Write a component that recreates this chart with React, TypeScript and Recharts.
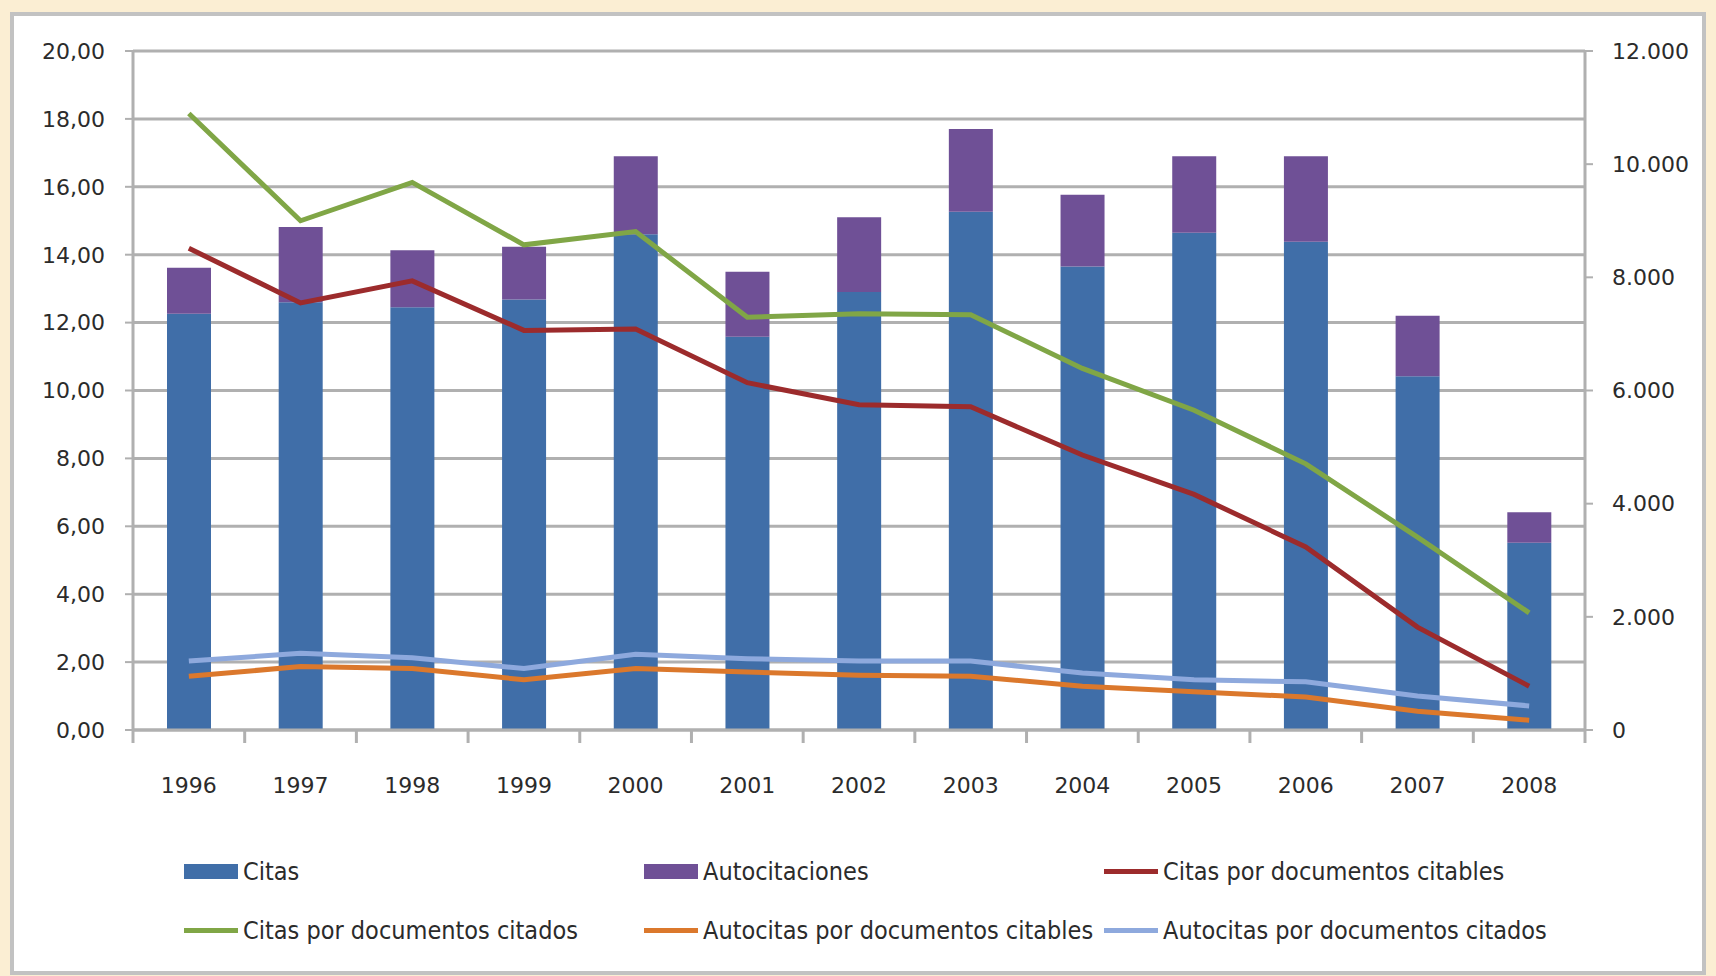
import {
  ComposedChart,
  Bar,
  Line,
  XAxis,
  YAxis,
  CartesianGrid,
} from "recharts";

// datos
const years = ["1996", "1997", "1998", "1999", "2000", "2001", "2002", "2003", "2004", "2005", "2006", "2007", "2008"];
const citas = [7355, 7560, 7470, 7610, 8760, 6950, 7740, 9160, 8190, 8790, 8630, 6250, 3310];
const autocitaciones = [815, 1330, 1010, 930, 1380, 1150, 1320, 1460, 1270, 1350, 1510, 1070, 540];
const citasCitables = [14.19, 12.58, 13.23, 11.77, 11.81, 10.23, 9.58, 9.52, 8.1, 6.94, 5.39, 3.03, 1.29];
const citasCitados = [18.16, 15.0, 16.13, 14.29, 14.68, 12.16, 12.26, 12.23, 10.65, 9.42, 7.84, 5.68, 3.45];
const autocitasCitables = [1.58, 1.87, 1.81, 1.48, 1.81, 1.71, 1.61, 1.58, 1.29, 1.13, 0.97, 0.55, 0.29];
const autocitasCitados = [2.03, 2.26, 2.13, 1.81, 2.23, 2.1, 2.03, 2.03, 1.68, 1.48, 1.42, 1.0, 0.71];

const leftTicks = [0, 2, 4, 6, 8, 10, 12, 14, 16, 18, 20];
const rightTicks = [0, 2000, 4000, 6000, 8000, 10000, 12000];

const data = years.map((year, i) => ({
  year,
  citas: citas[i],
  autocitaciones: autocitaciones[i],
  citasCitables: citasCitables[i],
  citasCitados: citasCitados[i],
  autocitasCitables: autocitasCitables[i],
  autocitasCitados: autocitasCitados[i],
}));

const COLORS = {
  citas: "#406ea8",
  autocitaciones: "#6f5096",
  citasCitables: "#9c2b2c",
  citasCitados: "#80a646",
  autocitasCitables: "#db782c",
  autocitasCitados: "#8ea9dd",
};

const legendItems = [
  { name: "Citas", color: COLORS.citas, kind: "bar" },
  { name: "Autocitaciones", color: COLORS.autocitaciones, kind: "bar" },
  { name: "Citas por documentos citables", color: COLORS.citasCitables, kind: "line" },
  { name: "Citas por documentos citados", color: COLORS.citasCitados, kind: "line" },
  { name: "Autocitas por documentos citables", color: COLORS.autocitasCitables, kind: "line" },
  { name: "Autocitas por documentos citados", color: COLORS.autocitasCitados, kind: "line" },
];

const W = 1716;
const H = 976;
const margin = { top: 51, right: 31, left: 53, bottom: 186 };
const xAxisHeight = 60;
const leftAxisWidth = 80;
const rightAxisWidth = 100;
const plotLeft = margin.left + leftAxisWidth;
const plotRight = W - margin.right - rightAxisWidth;
const plotBottom = H - margin.bottom - xAxisHeight;
const band = (plotRight - plotLeft) / years.length;

const GRID = "#b0b0b0";
const FONT = "'DejaVu Sans', sans-serif";
const TEXT = "#2b2b2b";

const fmtLeft = (v: number) => v.toFixed(2).replace(".", ",");
const fmtRight = (v: number) => (v === 0 ? "0" : v.toLocaleString("de-DE"));

function YearTick(props: any) {
  const { x, payload, index } = props;
  const last = index === years.length - 1;
  return (
    <g>
      <line x1={x - band / 2} x2={x - band / 2} y1={plotBottom} y2={plotBottom + 13} stroke={GRID} strokeWidth={3} />
      {last && (
        <line x1={x + band / 2} x2={x + band / 2} y1={plotBottom} y2={plotBottom + 13} stroke={GRID} strokeWidth={3} />
      )}
      <text x={x} y={plotBottom + 63} textAnchor="middle" fontFamily={FONT} fontSize={22} fill={TEXT}>
        {payload.value}
      </text>
    </g>
  );
}

export default function App() {
  return (
    <div style={{ position: "relative", width: W, height: H, background: "#fbeed3", overflow: "hidden" }}>
      <style>{"body{margin:0}"}</style>
      <div
        style={{
          position: "absolute",
          left: 10,
          top: 12,
          width: 1696,
          height: 963,
          boxSizing: "border-box",
          border: "4px solid #c2c2c2",
          background: "#ffffff",
        }}
      />
      <div style={{ position: "absolute", left: 0, top: 0 }}>
        <ComposedChart width={W} height={H} data={data} margin={margin} barSize={44}>
          <CartesianGrid yAxisId="left" vertical={false} stroke={GRID} strokeWidth={3} />
          <XAxis
            dataKey="year"
            height={xAxisHeight}
            axisLine={{ stroke: GRID, strokeWidth: 3 }}
            tickLine={false}
            tick={<YearTick />}
            interval={0}
          />
          <YAxis
            yAxisId="left"
            width={leftAxisWidth}
            domain={[0, 20]}
            ticks={leftTicks}
            tickFormatter={fmtLeft}
            axisLine={{ stroke: GRID, strokeWidth: 3 }}
            tickLine={{ stroke: GRID, strokeWidth: 2 }}
            tickSize={8}
            tickMargin={20}
            tick={{ fontFamily: FONT, fontSize: 22, fill: TEXT }}
          />
          <YAxis
            yAxisId="right"
            orientation="right"
            width={rightAxisWidth}
            domain={[0, 12000]}
            ticks={rightTicks}
            tickFormatter={fmtRight}
            axisLine={{ stroke: GRID, strokeWidth: 3 }}
            tickLine={{ stroke: GRID, strokeWidth: 2 }}
            tickSize={8}
            tickMargin={19}
            tick={{ fontFamily: FONT, fontSize: 22, fill: TEXT }}
          />
          <Bar yAxisId="right" dataKey="citas" stackId="a" fill={COLORS.citas} isAnimationActive={false} />
          <Bar yAxisId="right" dataKey="autocitaciones" stackId="a" fill={COLORS.autocitaciones} isAnimationActive={false} />
          <Line yAxisId="left" dataKey="citasCitables" stroke={COLORS.citasCitables} strokeWidth={5} dot={false} isAnimationActive={false} />
          <Line yAxisId="left" dataKey="citasCitados" stroke={COLORS.citasCitados} strokeWidth={5} dot={false} isAnimationActive={false} />
          <Line yAxisId="left" dataKey="autocitasCitables" stroke={COLORS.autocitasCitables} strokeWidth={5} dot={false} isAnimationActive={false} />
          <Line yAxisId="left" dataKey="autocitasCitados" stroke={COLORS.autocitasCitados} strokeWidth={5} dot={false} isAnimationActive={false} />
        </ComposedChart>
      </div>

      {/* leyenda */}
      {legendItems.map((item, i) => {
        const col = i % 3;
        const row = Math.floor(i / 3);
        return (
          <div
            key={item.name}
            style={{
              position: "absolute",
              left: 184 + col * 460,
              top: 871 + row * 59 - 16,
              height: 32,
              display: "flex",
              alignItems: "center",
              fontFamily: "'DejaVu Sans Condensed', 'DejaVu Sans', sans-serif",
              fontSize: 25,
              color: TEXT,
              whiteSpace: "nowrap",
            }}
          >
            <span
              style={{
                display: "inline-block",
                width: 54,
                height: item.kind === "bar" ? 15 : 5,
                background: item.color,
                marginRight: 5,
              }}
            />
            {item.name}
          </div>
        );
      })}
    </div>
  );
}
